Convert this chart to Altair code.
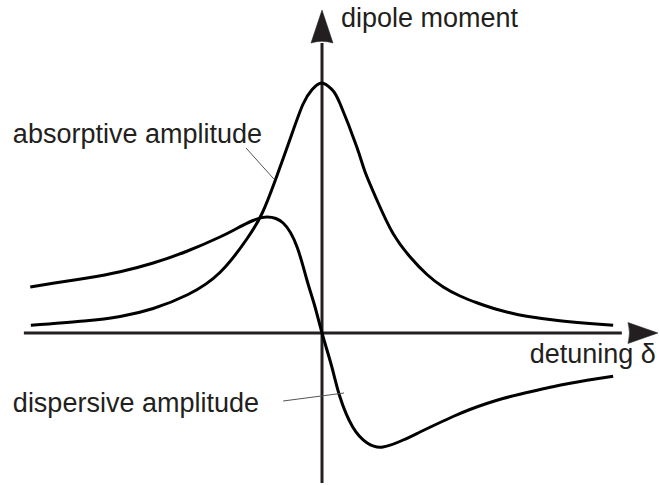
import altair as alt
import pandas as pd

# Detuning in units of the linewidth, amplitude normalised to the absorptive peak
abs_delta = [-5.02, -4.10, -3.48, -2.91, -2.31, -1.76, -1.29, -1.03, -0.81, -0.55, -0.33, -0.17, 0.0,
             0.17, 0.31, 0.60, 0.74, 0.95, 1.22, 1.52, 1.81, 2.09, 2.38, 2.67, 2.95, 3.24, 3.53,
             4.10, 4.67, 5.02]
abs_value = [0.031, 0.048, 0.066, 0.098, 0.154, 0.242, 0.378, 0.480, 0.608, 0.776, 0.914, 0.974, 1.0,
             0.974, 0.918, 0.744, 0.646, 0.530, 0.400, 0.304, 0.234, 0.184, 0.148, 0.121, 0.099,
             0.081, 0.067, 0.049, 0.037, 0.031]

disp_delta = [-5.03, -4.64, -4.05, -3.48, -2.91, -2.33, -1.76, -1.47, -1.19, -0.95, -0.67, -0.43,
              -0.26, -0.12, 0.0, 0.17, 0.31, 0.53, 0.78, 1.05, 1.40, 1.69, 1.98, 2.26, 2.55, 2.84,
              3.12, 3.41, 3.71, 3.98, 4.28, 4.57, 5.02]
disp_value = [0.184, 0.199, 0.220, 0.245, 0.280, 0.327, 0.384, 0.418, 0.450, 0.464, 0.440, 0.344,
              0.212, 0.104, 0.0, -0.136, -0.256, -0.376, -0.440, -0.456, -0.428, -0.396, -0.364,
              -0.334, -0.306, -0.282, -0.262, -0.245, -0.229, -0.215, -0.201, -0.189, -0.173]

# Axis extents (detuning axis and dipole-moment axis)
axis_x0, axis_x1, axis_y0, axis_y1 = [-5.14, 5.17, -0.60, 1.16]
# Arrow-head centres
arrow_up = [0.0, 1.226]
arrow_right = [5.534, 0.0]

# Label texts, anchors and leader lines
label_text = ["dipole moment", "absorptive amplitude", "dispersive amplitude", "detuning δ"]
label_x = [0.328, -5.33, -5.33, 3.58]
label_y = [1.224, 0.76, -0.316, -0.12]
leader_x = [-1.31, -0.67]
leader_y = [0.74, -0.272]
leader_x2 = [-0.83, 0.38]
leader_y2 = [0.616, -0.24]

W, H = 659, 485
xs = alt.Scale(domain=[-322 / 58, 337 / 58], nice=False, zero=False)
ys = alt.Scale(domain=[-152 / 250, 333 / 250], nice=False, zero=False)
INK = "#231f20"
FONT = "Liberation Sans"

curves = pd.concat([
    pd.DataFrame({"delta": abs_delta, "value": abs_value, "series": "absorptive"}),
    pd.DataFrame({"delta": disp_delta, "value": disp_value, "series": "dispersive"}),
])
axes_df = pd.DataFrame({
    "x": [axis_x0, 0.0], "x2": [axis_x1, 0.0],
    "y": [0.0, axis_y0], "y2": [0.0, axis_y1],
})
labels = pd.DataFrame({"text": label_text, "x": label_x, "y": label_y})
leaders = pd.DataFrame({"x": leader_x, "y": leader_y, "x2": leader_x2, "y2": leader_y2})

axes_layer = alt.Chart(axes_df).mark_rule(color=INK, strokeWidth=3).encode(
    x=alt.X("x:Q", scale=xs, axis=None), x2="x2:Q",
    y=alt.Y("y:Q", scale=ys, axis=None), y2="y2:Q",
)

up_layer = alt.Chart(pd.DataFrame({"x": [arrow_up[0]], "y": [arrow_up[1]]})).mark_point(
    shape="M0,-1 L0.667,1 Q0,0.8 -0.667,1 Z", size=1089, filled=True, fill=INK,
    stroke=INK, strokeWidth=0.5, opacity=1,
).encode(x=alt.X("x:Q", scale=xs, axis=None), y=alt.Y("y:Q", scale=ys, axis=None))

right_layer = alt.Chart(pd.DataFrame({"x": [arrow_right[0]], "y": [arrow_right[1]]})).mark_point(
    shape="M1,0 L-1,0.7 Q-0.8,0 -1,-0.7 Z", size=900, filled=True, fill=INK,
    stroke=INK, strokeWidth=0.5, opacity=1,
).encode(x=alt.X("x:Q", scale=xs, axis=None), y=alt.Y("y:Q", scale=ys, axis=None))

curve_layer = alt.Chart(curves).mark_line(
    color="black", strokeWidth=3, interpolate="natural"
).encode(
    x=alt.X("delta:Q", scale=xs, axis=None),
    y=alt.Y("value:Q", scale=ys, axis=None),
    detail="series:N",
)

leader_layer = alt.Chart(leaders).mark_rule(color="#555555", strokeWidth=1).encode(
    x=alt.X("x:Q", scale=xs, axis=None), x2="x2:Q",
    y=alt.Y("y:Q", scale=ys, axis=None), y2="y2:Q",
)

text_layer = alt.Chart(labels).mark_text(
    align="left", baseline="alphabetic", font=FONT, fontSize=27, color=INK
).encode(
    x=alt.X("x:Q", scale=xs, axis=None),
    y=alt.Y("y:Q", scale=ys, axis=None),
    text="text:N",
)

chart = alt.layer(
    axes_layer, up_layer, right_layer, curve_layer, leader_layer, text_layer
).properties(
    width=W, height=H, padding=0, autosize=alt.AutoSizeParams(type="none"),
    background="white",
).configure_view(stroke=None)

chart.save("out.html", embed_options={"renderer": "svg", "actions": False})
